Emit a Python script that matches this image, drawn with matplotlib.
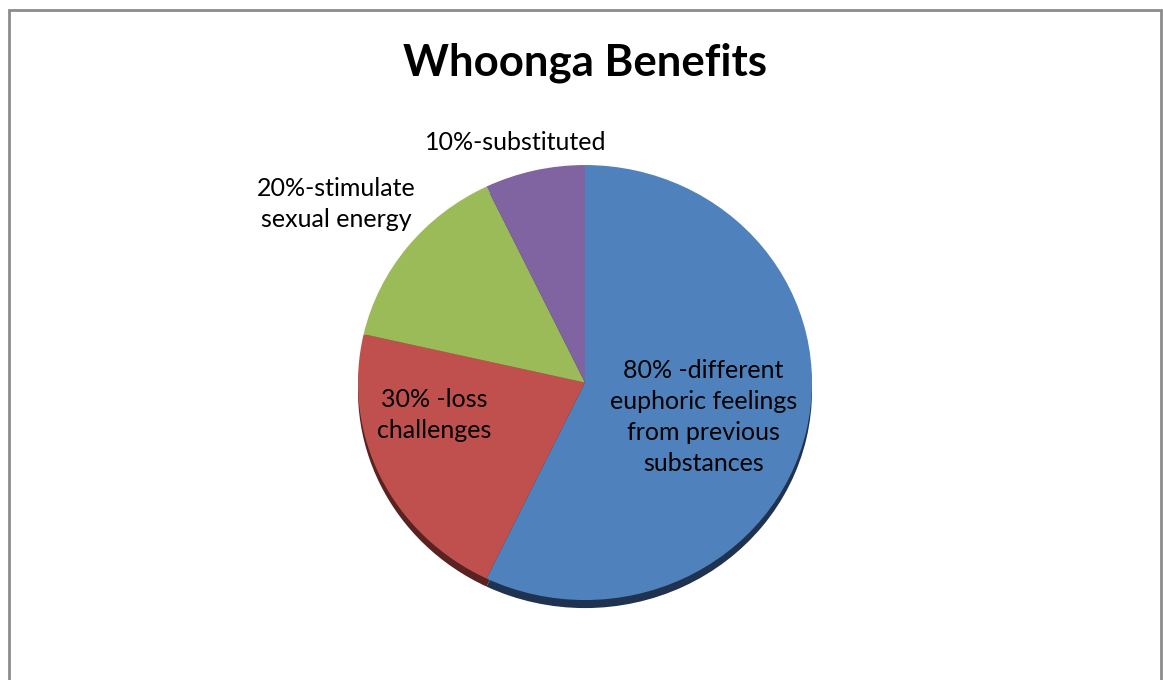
import numpy as np
import matplotlib
matplotlib.use("Agg")
import matplotlib.pyplot as plt
from matplotlib.patches import Rectangle

# --- Data ---
labels = [
    "80% -different\neuphoric feelings\nfrom previous\nsubstances",
    "30% -loss\nchallenges",
    "20%-stimulate\nsexual energy",
    "10%-substituted",
]
values = [80, 30, 20, 10]
colors = ["#4F81BD", "#C0504D", "#9BBB59", "#8064A2"]
shadow_colors = ["#1F3350", "#5A2220", "#4A5A2A", "#3D3050"]
# label placement: distance from centre and angle tweak (deg)
label_dist = [0.545, 0.68, 1.37, 1.145]
label_shift = [-4.2, -13.0, 1.7, 2.7]

plt.rcParams["font.family"] = ["Lato", "DejaVu Sans"]

fig = plt.figure(figsize=(11.63, 6.8), dpi=100)
ax = fig.add_axes([0.3078, 0.1176, 0.3904, 0.6397])

# 3D-ish rim: darker copy of the pie shifted down
ax.pie(values, colors=shadow_colors, startangle=90, counterclock=False,
       center=(0, -0.037), radius=1.0, wedgeprops=dict(linewidth=0))
wedges, _ = ax.pie(values, colors=colors, startangle=90, counterclock=False,
                   radius=1.0, wedgeprops=dict(linewidth=0))
ax.set_aspect("auto")
ax.set_xlim(-1, 1)
ax.set_ylim(-1, 1)

for w, lab, d, s in zip(wedges, labels, label_dist, label_shift):
    ang = np.deg2rad((w.theta1 + w.theta2) / 2 + s)
    ax.text(d * np.cos(ang), d * np.sin(ang), lab, ha="center", va="center",
            fontsize=18, linespacing=1.42, color="black")

fig.text(0.503, 0.907, "Whoonga Benefits", ha="center", va="center",
         fontsize=31.5, fontweight="bold")

fig.patches.append(Rectangle((9 / 1163, -0.05), 1152 / 1163, 1.05 - 10 / 680,
                             transform=fig.transFigure, fill=False,
                             edgecolor="#8C8C8C", linewidth=2))

fig.savefig("out.png", dpi=100)
